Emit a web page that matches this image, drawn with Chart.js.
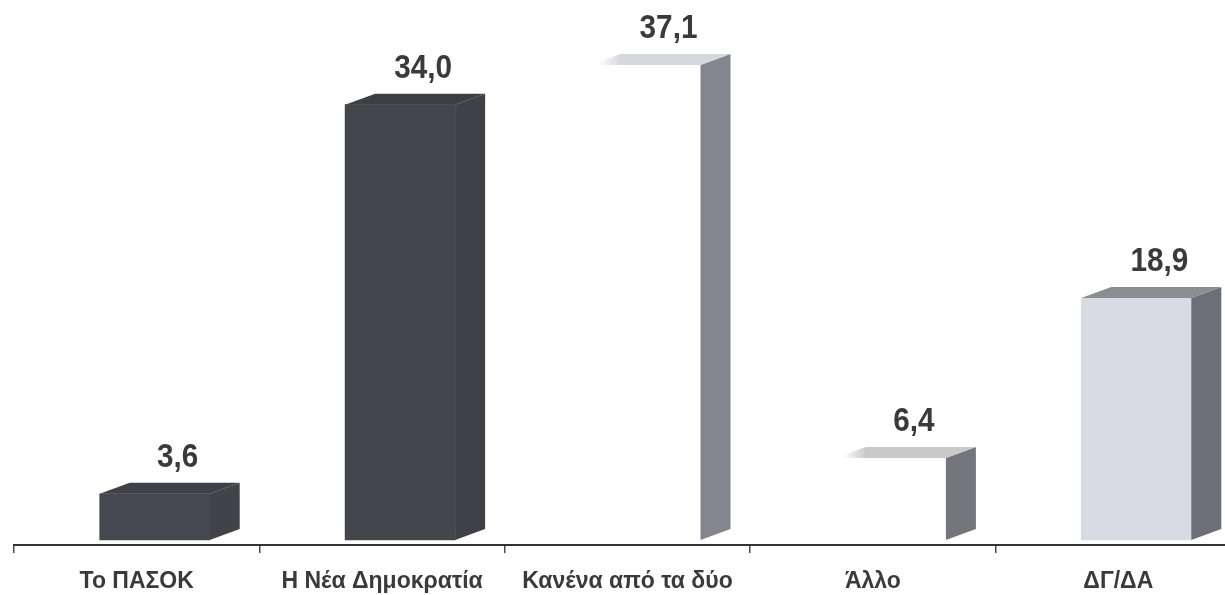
<!DOCTYPE html>
<html>
<head>
<meta charset="utf-8">
<title>Chart</title>
<script src="https://cdn.jsdelivr.net/npm/chart.js@4"></script>
<style>
  html, body { margin: 0; padding: 0; background: #fff; overflow: hidden; }
  #wrap { width: 1260px; height: 595px; }
  canvas { filter: blur(0.5px); }
</style>
</head>
<body>
<div id="wrap"><canvas id="chart"></canvas></div>
<script>
  var categories = ['Το ΠΑΣΟΚ', 'Η Νέα Δημοκρατία', 'Κανένα από τα δύο', 'Άλλο', 'ΔΓ/ΔΑ'];
  var values = [3.6, 34.0, 37.1, 6.4, 18.9];

  var frontColors = ['#46484f', '#44464c', '#ffffff', '#ffffff', '#d8dbe2'];
  var sideColors = ['#414349', '#3f4146', '#84868e', '#74767c', '#6c6f75'];
  var topColors = ['#3f4147', '#3d3f44', '#d4d7dc', '#c9c9c9', '#8b8d91'];
  var fadedTops = [false, false, true, true, false];

  var labelFont = 'bold 33px "Liberation Sans", sans-serif';
  var labelSqueeze = 0.9;
  var depthX = 30;
  var depthY = 11;
  // the bars sit to the right of their tick labels in the original
  var barShift = 18;

  var boxFaces = {
    id: 'boxFaces',
    beforeDatasetsDraw: function(chart) {
      chart.ctx.save();
      chart.ctx.translate(barShift, 0);
    },
    afterDatasetsDraw: function(chart) {
      var ctx = chart.ctx;
      chart.getDatasetMeta(0).data.forEach(function(bar, i) {
        var left = bar.x - bar.width / 2;
        var right = bar.x + bar.width / 2;

        ctx.fillStyle = sideColors[i];
        ctx.beginPath();
        ctx.moveTo(right, bar.y);
        ctx.lineTo(right + depthX, bar.y - depthY);
        ctx.lineTo(right + depthX, bar.base - depthY);
        ctx.lineTo(right, bar.base);
        ctx.closePath();
        ctx.fill();

        var topFill = topColors[i];
        if (fadedTops[i]) {
          topFill = ctx.createLinearGradient(left, 0, left + depthX, 0);
          topFill.addColorStop(0.25, '#ffffff');
          topFill.addColorStop(1, topColors[i]);
        }
        ctx.fillStyle = topFill;
        ctx.beginPath();
        ctx.moveTo(left, bar.y);
        ctx.lineTo(left + depthX, bar.y - depthY);
        ctx.lineTo(right + depthX, bar.y - depthY);
        ctx.lineTo(right, bar.y);
        ctx.closePath();
        ctx.fill();

        // the value labels are a condensed bold in the original
        ctx.save();
        ctx.translate(bar.x + 23, bar.y - 27);
        ctx.scale(labelSqueeze, 1);
        ctx.fillStyle = '#3a3a3c';
        ctx.font = labelFont;
        ctx.textAlign = 'center';
        ctx.textBaseline = 'alphabetic';
        ctx.fillText(values[i].toFixed(1).replace('.', ','), 0, 0);
        ctx.restore();
      });
      ctx.restore();
    }
  };

  new Chart(document.getElementById('chart'), {
    type: 'bar',
    data: {
      labels: categories,
      datasets: [{
        data: values,
        backgroundColor: frontColors,
        borderWidth: 0,
        barThickness: 110
      }]
    },
    plugins: [boxFaces],
    options: {
      responsive: true,
      maintainAspectRatio: false,
      animation: false,
      layout: { padding: { left: 14, right: 19, top: 0, bottom: 0 } },
      plugins: {
        legend: { display: false },
        tooltip: { enabled: false }
      },
      scales: {
        x: {
          offset: true,
          afterFit: function(scale) { scale.height = 50; },
          border: { display: true, color: '#333333', width: 2 },
          grid: { drawOnChartArea: false, drawTicks: true, tickLength: 8, color: '#4a4a4a', lineWidth: 1.5 },
          ticks: {
            color: '#3a3a3c',
            padding: 15,
            maxRotation: 0,
            autoSkip: false,
            font: { family: '"Liberation Sans", sans-serif', size: 23, weight: 'bold' }
          }
        },
        y: {
          display: false,
          min: -0.4,
          max: 42.18
        }
      }
    }
  });
</script>
</body>
</html>
